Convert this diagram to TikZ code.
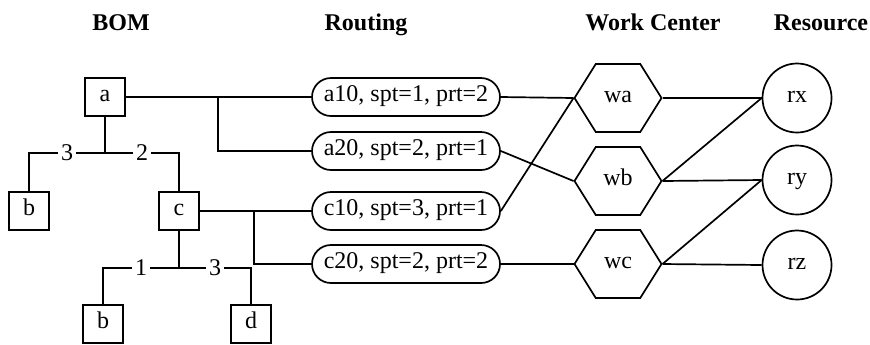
\documentclass[tikz,border=0pt]{standalone}
\usepackage{fontspec}
\setmainfont{Liberation Serif}
\usetikzlibrary{shapes.misc, shapes.symbols, positioning}
\tikzset{bom-line/.style={line width=0.85pt}}
\tikzset{bom-node/.style={draw, line width=0.85pt, inner sep=0, minimum width=20pt, minimum height=19pt, text height=0.7em, text depth=0.22em}}
\tikzset{qty/.style={fill=white, inner sep=1.5pt}}
\tikzset{routing-node/.style={draw, rounded rectangle, line width=0.85pt, inner sep=0, minimum width=94pt, minimum height=19pt, text height=0.7em, text depth=0.22em}}
\tikzset{wc-node/.style={draw, signal, signal to=west and east, signal pointer angle=116, line width=0.85pt, inner sep=0, minimum width=43.5pt, minimum height=34pt, text height=0.7em, text depth=0.22em}}
\tikzset{res-node/.style={draw, circle, line width=0.85pt, inner sep=0, minimum size=34.5pt, text height=0.7em, text depth=0.22em}}
\tikzset{title/.style={font=\fontsize{12}{14}\selectfont\bfseries, anchor=base}}

\begin{document}
\begin{tikzpicture}[x=0.5pt, y=-0.5pt, font=\fontsize{12}{14}\selectfont]
            \useasboundingbox (0,0) rectangle (870,344);

            % column headings
            \node[title] (t-bom) at (121,30) {BOM};
            \node[title] (t-routing) at (366,30) {Routing};
            \node[title] (t-wc) at (653,30) {Work Center};
            \node[title] (t-res) at (821,30) {Resource};

            % bill of materials
            \node[bom-node] (a) at (105,97) {a};
            \node[bom-node] (b1) at (29,211) {b};
            \node[bom-node] (c) at (179,211) {c};
            \node[bom-node] (b2) at (103,324) {b};
            \node[bom-node] (d) at (251,324) {d};

            \coordinate (ja) at (105,153);
            \coordinate (jc) at (179,268);

            \draw[bom-line] (a) -- (ja);
            \draw[bom-line] (b1.north) |- node[qty, pos=0.75] {3} (ja);
            \draw[bom-line] (c.north) |- node[qty, pos=0.75] {2} (ja);

            \draw[bom-line] (c) -- (jc);
            \draw[bom-line] (b2.north) |- node[qty, pos=0.75] {1} (jc);
            \draw[bom-line] (d.north) |- node[qty, pos=0.75] {3} (jc);

            % routings
            \node[routing-node] (a10) at (406,97) {a10, spt=1, prt=2};
            \node[routing-node] (a20) at (406,151) {a20, spt=2, prt=1};
            \node[routing-node] (c10) at (406,211) {c10, spt=3, prt=1};
            \node[routing-node] (c20) at (406,264) {c20, spt=2, prt=2};

            \coordinate (ka) at (218,97);
            \coordinate (kc) at (254,211);

            \draw[bom-line] (a.east) -- (a10.west);
            \draw[bom-line] (ka) |- (a20.west);
            \draw[bom-line] (c.east) -- (c10.west);
            \draw[bom-line] (kc) |- (c20.west);

            % work centers
            \node[wc-node] (wa) at (618,98) {wa};
            \node[wc-node] (wb) at (618,181) {wb};
            \node[wc-node] (wc) at (618,264) {wc};

            \draw[bom-line] (a10.east) -- (wa.west);
            \draw[bom-line] (c10.east) -- (wa.west);
            \draw[bom-line] (a20.east) -- (wb.west);
            \draw[bom-line] (c20.east) -- (wc.west);

            % resources
            \node[res-node] (rx) at (797,98) {rx};
            \node[res-node] (ry) at (797,180) {ry};
            \node[res-node] (rz) at (797,265) {rz};

            \draw[bom-line] (wa.east) -- (rx.west);
            \draw[bom-line] (wb.east) -- (rx.west);
            \draw[bom-line] (wb.east) -- (ry.west);
            \draw[bom-line] (wc.east) -- (ry.west);
            \draw[bom-line] (wc.east) -- (rz.west);

        \end{tikzpicture}
\end{document}
